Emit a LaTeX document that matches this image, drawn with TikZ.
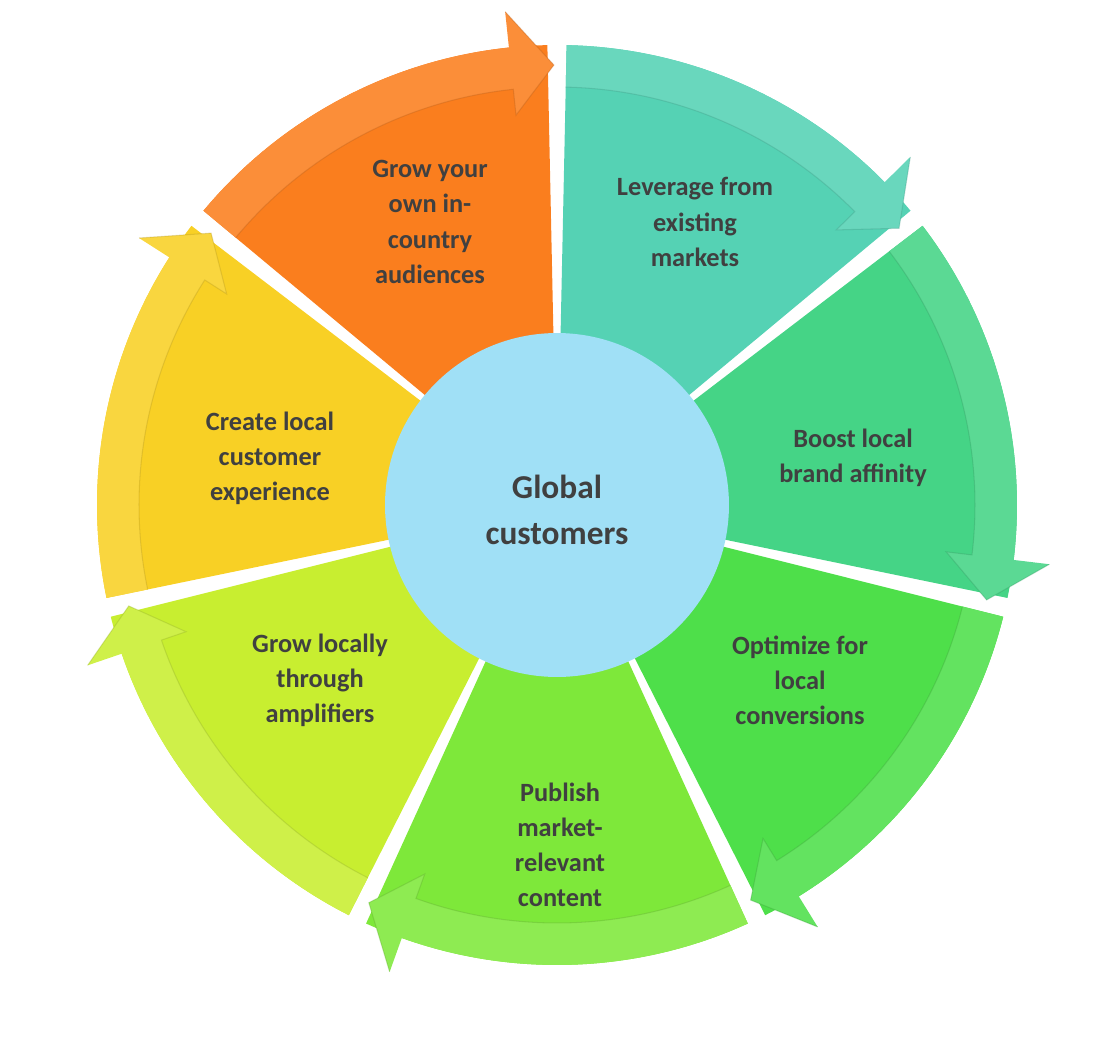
\documentclass[tikz,border=0pt]{standalone}
\usepackage{fontspec}
\setmainfont{Carlito}
\definecolor{segA}{HTML}{FA7E1E}
\definecolor{segB}{HTML}{55D2B4}
\definecolor{segC}{HTML}{45D486}
\definecolor{segD}{HTML}{4EDF4A}
\definecolor{segE}{HTML}{7EE83A}
\definecolor{segF}{HTML}{C8EE30}
\definecolor{segG}{HTML}{F8D025}
\definecolor{hub}{HTML}{A0E0F6}
\definecolor{ink}{HTML}{404040}
\tikzset{
  segtext/.style={align=center, text=ink, font=\fontsize{15}{20}\selectfont\bfseries},
  hubtext/.style={align=center, text=ink, font=\fontsize{19}{26}\selectfont\bfseries}
}
\begin{document}
\begin{tikzpicture}[x=0.02cm, y=0.02cm]
  \useasboundingbox (-557,-531) rectangle (560,505);
  % segments with their arrows
  \foreach \a/\c in {141.43/segA, 90/segB, 38.57/segC, -12.86/segD, -64.29/segE, -115.71/segF, -167.14/segG} {
    \pgfmathsetmacro{\s}{\a-1.2}
    \pgfmathsetmacro{\e}{\a-51.43+1.2}
    \pgfmathsetmacro{\h}{\a-51.43+6}
    \pgfmathsetmacro{\t}{\a-51.43+0.4}
    \fill[\c] (0,0) -- (\s:460) arc[start angle=\s, end angle=\e, radius=460] -- cycle;
    \fill[\c!88!white] (\s:418) arc[start angle=\s, end angle=\h, radius=418]
      -- (\h:392) -- (\t:440) -- (\h:496) -- (\h:460)
      arc[start angle=\h, end angle=\s, radius=460] -- cycle;
    \draw[\c!70!black, opacity=0.3, line width=0.6pt] (\s:418) arc[start angle=\s, end angle=\h, radius=418]
      -- (\h:392) -- (\t:440) -- (\h:496);
  }
  % hub
  \node[circle, fill=hub, minimum size=6.88cm, inner sep=0pt] (hub) at (0,0) {};
  \node[hubtext] (hubtxt) at (0,-5) {Global\\customers};
  % labels
  \node[segtext] (grow) at (-127,283) {Grow your\\own in-\\country\\audiences};
  \node[segtext] (lever) at (138,283) {Leverage from\\existing\\markets};
  \node[segtext] (boost) at (296,47) {Boost local\\brand affinity};
  \node[segtext] (optim) at (243,-175) {Optimize for\\local\\conversions};
  \node[segtext] (publ) at (3,-340) {Publish\\market-\\relevant\\content};
  \node[segtext] (ampl) at (-237,-175) {Grow locally\\through\\amplifiers};
  \node[segtext] (exper) at (-287,47) {Create local\\customer\\experience};
\end{tikzpicture}
\end{document}
